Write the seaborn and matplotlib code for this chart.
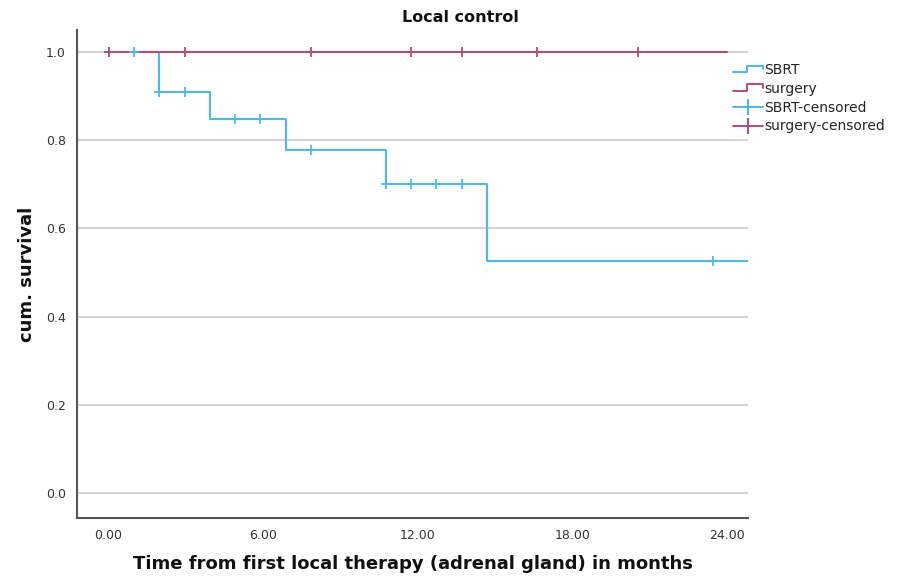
import matplotlib
matplotlib.use("Agg")
import matplotlib.pyplot as plt
import seaborn as sns
import pandas as pd
from matplotlib.lines import Line2D
from matplotlib.legend_handler import HandlerBase

# ---- data ----
sbrt_time = [0.0, 1.98, 3.95, 6.9, 10.78, 14.69, 24.8]
sbrt_surv = [1.0, 0.909, 0.848, 0.778, 0.70, 0.525, 0.525]
sbrt_cens_time = [0.04, 1.01, 1.98, 2.98, 4.92, 5.89, 7.87, 10.78, 11.74, 12.71, 13.72, 23.45]
sbrt_cens_surv = [1.0, 1.0, 0.909, 0.909, 0.848, 0.848, 0.778, 0.70, 0.70, 0.70, 0.70, 0.525]

surg_time = [0.0, 24.0]
surg_surv = [1.0, 1.0]
surg_cens_time = [0.04, 2.98, 7.87, 11.74, 13.72, 16.63, 20.54]
surg_cens_surv = [1.0, 1.0, 1.0, 1.0, 1.0, 1.0, 1.0]

x_ticks = [0, 6, 12, 18, 24]
x_ticklabels = ["0.00", "6.00", "12.00", "18.00", "24.00"]
y_ticks = [0.0, 0.2, 0.4, 0.6, 0.8, 1.0]
y_ticklabels = ["0.0", "0.2", "0.4", "0.6", "0.8", "1.0"]

BLUE = "#4cb6f7"
RED = "#b94a72"

sns.set_theme(style="white")
plt.rcParams["font.family"] = ["DejaVu Sans"]

fig = plt.figure(figsize=(8.99, 5.78), dpi=100)
ax = fig.add_axes([77/899, 1-518/578, (748-77)/899, (518-30)/578])

for yt in y_ticks:
    ax.axhline(yt, color="#d2d2d2", lw=1.4, zorder=0)

sbrt = pd.DataFrame({"t": sbrt_time, "s": sbrt_surv})
surg = pd.DataFrame({"t": surg_time, "s": surg_surv})
sns.lineplot(data=sbrt, x="t", y="s", ax=ax, color=BLUE, lw=1.5,
             drawstyle="steps-post", estimator=None, sort=False)
sns.lineplot(data=surg, x="t", y="s", ax=ax, color=RED, lw=1.5,
             drawstyle="steps-post", estimator=None, sort=False)
sns.scatterplot(x=sbrt_cens_time, y=sbrt_cens_surv, ax=ax, marker="+",
                color=BLUE, s=50, linewidth=1.3, zorder=3)
sns.scatterplot(x=surg_cens_time, y=surg_cens_surv, ax=ax, marker="+",
                color=RED, s=50, linewidth=1.3, zorder=4)

ax.set_xlim(-1.2, 24.8)
ax.set_ylim(-0.057, 1.05)
ax.set_xticks(x_ticks)
ax.set_xticklabels(x_ticklabels)
ax.set_yticks(y_ticks)
ax.set_yticklabels(y_ticklabels)
ax.tick_params(axis="both", length=0, labelsize=9, colors="#333333", pad=8)
for side in ["top", "right"]:
    ax.spines[side].set_visible(False)
for side in ["left", "bottom"]:
    ax.spines[side].set_color("#555555")
    ax.spines[side].set_linewidth(1.5)

ax.set_xlabel("Time from first local therapy (adrenal gland) in months",
              fontsize=13, fontweight="bold", labelpad=9, color="#111111")
ax.set_ylabel("cum. survival", fontsize=13, fontweight="bold", labelpad=7,
              color="#111111")
fig.text(460/899, 1-17/578, "Local control", ha="center", va="center",
         fontsize=11.5, fontweight="bold", color="#111111")


class StepHandler(HandlerBase):
    def create_artists(self, legend, orig_handle, xdescent, ydescent,
                       width, height, fontsize, trans):
        x0, x1 = -xdescent, -xdescent + width
        y0 = -ydescent + height * 0.15
        y1 = -ydescent + height * 0.85
        xs = [x0, x0 + width * 0.45, x0 + width * 0.45, x1, x1]
        ys = [y0, y0, y1, y1, y0 + height * 0.35]
        ln = Line2D(xs, ys, color=orig_handle.get_color(), lw=1.4,
                    transform=trans)
        return [ln]


h1 = Line2D([], [], color=BLUE)
h2 = Line2D([], [], color=RED)
h3 = Line2D([], [], color=BLUE, marker="+", markersize=11, lw=1.4, mew=1.4)
h4 = Line2D([], [], color=RED, marker="+", markersize=11, lw=1.4, mew=1.4)
leg = fig.legend([h1, h2, h3, h4],
                 ["SBRT", "surgery", "SBRT-censored", "surgery-censored"],
                 handler_map={h1: StepHandler(), h2: StepHandler()},
                 loc="upper left", bbox_to_anchor=(728/899, 1-58/578),
                 frameon=True, fontsize=10, handlelength=2.2,
                 handletextpad=0.05, labelspacing=0.35, borderpad=0.35,
                 borderaxespad=0)
leg.get_frame().set_edgecolor("white")
leg.get_frame().set_facecolor("white")
leg.get_frame().set_alpha(1.0)
leg.get_frame().set_boxstyle("square", pad=0)

fig.savefig("out.png", dpi=100)
